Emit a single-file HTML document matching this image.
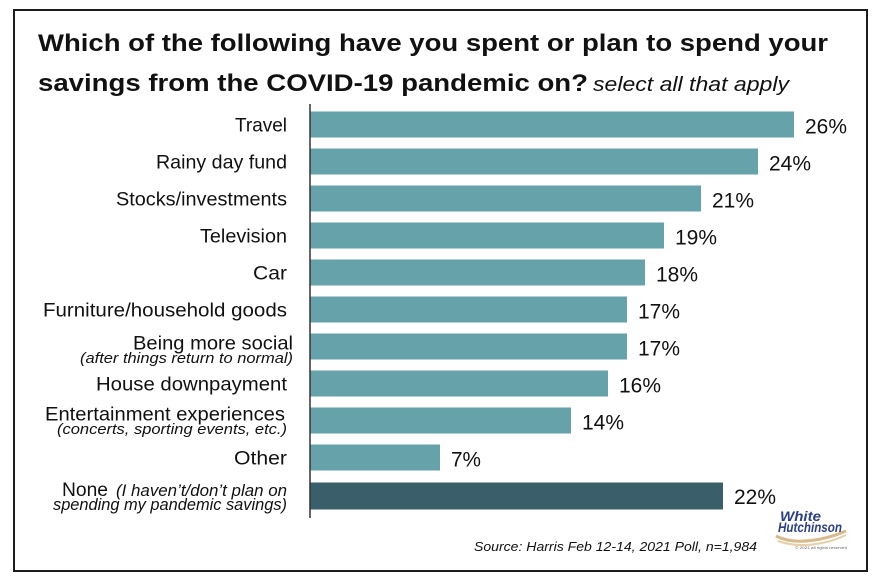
<!DOCTYPE html>
<html>
<head>
<meta charset="utf-8">
<style>
html,body{margin:0;padding:0;background:#fff;}
svg{display:block;}
text{font-family:"Liberation Sans",Arial,sans-serif;fill:#111;}
</style>
</head>
<body>
<svg width="880" height="584" viewBox="0 0 880 584" xmlns="http://www.w3.org/2000/svg">
  <rect x="0" y="0" width="880" height="584" fill="#fff"/>
  <rect x="14" y="10" width="853" height="561" fill="#fff" stroke="#1c1c1c" stroke-width="2"/>

  <!-- Title -->
  <text x="38" y="51" font-size="24" font-weight="bold" textLength="790" lengthAdjust="spacingAndGlyphs">Which of the following have you spent or plan to spend your</text>
  <text x="38" y="91" font-size="24" font-weight="bold" textLength="550" lengthAdjust="spacingAndGlyphs">savings from the COVID-19 pandemic on?</text>
  <text x="593" y="91" font-size="20" font-style="italic" textLength="196" lengthAdjust="spacingAndGlyphs">select all that apply</text>

  <!-- Bars -->
  <g fill="#66a2aa">
    <rect x="310" y="111.5" width="484" height="26"/>
    <rect x="310" y="148.5" width="448" height="26"/>
    <rect x="310" y="185.5" width="391" height="26"/>
    <rect x="310" y="222.5" width="354" height="26"/>
    <rect x="310" y="259.5" width="335" height="26"/>
    <rect x="310" y="296.5" width="317" height="26"/>
    <rect x="310" y="333.5" width="317" height="26"/>
    <rect x="310" y="370.5" width="298" height="26"/>
    <rect x="310" y="407.5" width="261" height="26"/>
    <rect x="310" y="444.5" width="130" height="26"/>
  </g>
  <rect x="310" y="482.5" width="413" height="27" fill="#3a5f6b"/>

  <!-- Axis -->
  <line x1="310" y1="104" x2="310" y2="518" stroke="#333" stroke-width="1.5"/>

  <!-- Percent labels -->
  <g font-size="21">
    <text x="805" y="133.5" textLength="42" lengthAdjust="spacingAndGlyphs">26%</text>
    <text x="769" y="170.5" textLength="42" lengthAdjust="spacingAndGlyphs">24%</text>
    <text x="712" y="207.5" textLength="42" lengthAdjust="spacingAndGlyphs">21%</text>
    <text x="675" y="244.5" textLength="42" lengthAdjust="spacingAndGlyphs">19%</text>
    <text x="656" y="281.5" textLength="42" lengthAdjust="spacingAndGlyphs">18%</text>
    <text x="638" y="318.5" textLength="42" lengthAdjust="spacingAndGlyphs">17%</text>
    <text x="638" y="355.5" textLength="42" lengthAdjust="spacingAndGlyphs">17%</text>
    <text x="619" y="392.5" textLength="42" lengthAdjust="spacingAndGlyphs">16%</text>
    <text x="582" y="429.5" textLength="42" lengthAdjust="spacingAndGlyphs">14%</text>
    <text x="451" y="466.5" textLength="30" lengthAdjust="spacingAndGlyphs">7%</text>
    <text x="734" y="504" textLength="42" lengthAdjust="spacingAndGlyphs">22%</text>
  </g>

  <!-- Category labels -->
  <g font-size="19.5" text-anchor="end">
    <text x="287" y="131.5" textLength="52" lengthAdjust="spacingAndGlyphs">Travel</text>
    <text x="287" y="168.5" textLength="131" lengthAdjust="spacingAndGlyphs">Rainy day fund</text>
    <text x="287" y="205.5" textLength="171" lengthAdjust="spacingAndGlyphs">Stocks/investments</text>
    <text x="287" y="242.5" textLength="87" lengthAdjust="spacingAndGlyphs">Television</text>
    <text x="287" y="279.5" textLength="34" lengthAdjust="spacingAndGlyphs">Car</text>
    <text x="287" y="316.5" textLength="244" lengthAdjust="spacingAndGlyphs">Furniture/household goods</text>
    <text x="293" y="349.5" textLength="160" lengthAdjust="spacingAndGlyphs">Being more social</text>
    <text x="287" y="390.5" textLength="191" lengthAdjust="spacingAndGlyphs">House downpayment</text>
    <text x="285" y="420.5" textLength="240" lengthAdjust="spacingAndGlyphs">Entertainment experiences</text>
    <text x="287" y="464.5" textLength="53" lengthAdjust="spacingAndGlyphs">Other</text>
  </g>
  <g font-size="14.5" font-style="italic" text-anchor="end">
    <text x="293" y="363" textLength="213" lengthAdjust="spacingAndGlyphs">(after things return to normal)</text>
    <text x="287" y="434" textLength="230" lengthAdjust="spacingAndGlyphs">(concerts, sporting events, etc.)</text>
  </g>
  <text x="62" y="496" font-size="19.5" textLength="46" lengthAdjust="spacingAndGlyphs">None</text>
  <text x="287" y="496" font-size="16.5" font-style="italic" text-anchor="end" textLength="171" lengthAdjust="spacingAndGlyphs">(I haven’t/don’t plan on</text>
  <text x="287" y="510" font-size="16.5" font-style="italic" text-anchor="end" textLength="234" lengthAdjust="spacingAndGlyphs">spending my pandemic savings)</text>

  <!-- Source -->
  <text x="474" y="551" font-size="13" font-style="italic" textLength="283" lengthAdjust="spacingAndGlyphs">Source: Harris Feb 12-14, 2021 Poll, n=1,984</text>

  <!-- Logo -->
  <g>
    <path d="M776 536 C 795 546, 825 540, 846 531" stroke="#d8b98a" stroke-width="3" fill="none"/>
    <path d="M778 541 C 800 549, 828 544, 846 535" stroke="#e6cfa8" stroke-width="2" fill="none"/>
    <text x="780" y="521" font-size="14" font-weight="bold" font-style="italic" fill="#2b3f86" style="fill:#2b3f86" textLength="41" lengthAdjust="spacingAndGlyphs">White</text>
    <text x="778" y="532" font-size="14" font-weight="bold" font-style="italic" fill="#2b3f86" style="fill:#2b3f86" textLength="64" lengthAdjust="spacingAndGlyphs">Hutchinson</text>
    <text x="795" y="549" font-size="4" fill="#666" style="fill:#666" textLength="52" lengthAdjust="spacingAndGlyphs">© 2021 all rights reserved</text>
  </g>
</svg>
</body>
</html>
